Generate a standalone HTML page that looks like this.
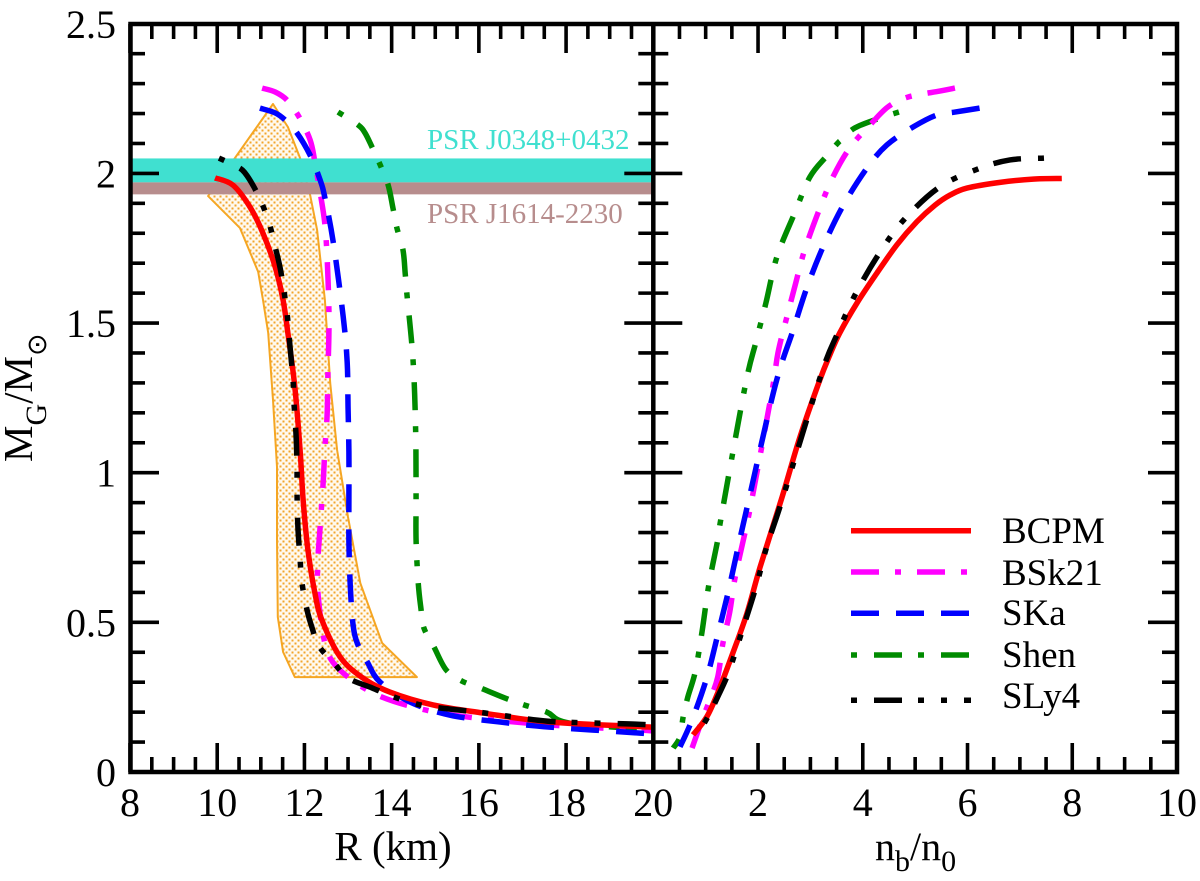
<!DOCTYPE html>
<html>
<head>
<meta charset="utf-8">
<title>Neutron star mass-radius chart</title>
<style>
html,body{margin:0;padding:0;background:#fff;}
svg{display:block;font-family:"Liberation Serif",serif;}
</style>
</head>
<body>
<svg id="chart" xmlns="http://www.w3.org/2000/svg" width="1200" height="881" viewBox="0 0 1200 881">
<defs>
<clipPath id="clip-left"><rect x="130" y="24" width="523.3" height="748"></rect></clipPath>
<clipPath id="clip-right"><rect x="653.3" y="24" width="523.7" height="748"></rect></clipPath>
<pattern id="dots" patternUnits="userSpaceOnUse" width="6" height="6">
<rect width="6" height="6" fill="#fff9ee"></rect>
<rect x="0.5" y="0.5" width="2" height="2" fill="#f2a52c"></rect>
<rect x="3.5" y="3.5" width="2" height="2" fill="#f2a52c"></rect>
</pattern>
</defs>
</svg>
<script>
// Axis tick values
const radiusTicks = [8, 10, 12, 14, 16, 18, 20];
const densityTicks = [2, 4, 6, 8, 10];
const massTicks = [0, 0.5, 1, 1.5, 2, 2.5];
const massTickLabels = ['0', '0.5', '1', '1.5', '2', '2.5'];

// Pulsar mass bands
const j0348Band = [1.97, 2.05];
const j1614Band = [1.93, 1.97];

// Constraint region
const regionR = [11.28, 11.62, 11.90, 12.13, 12.29, 12.47, 12.59, 12.75, 13.0, 13.28, 13.78, 14.58, 11.78, 11.51, 11.39, 11.37, 11.37, 11.28, 11.17, 11.05, 10.94, 10.52, 9.79];
const regionM = [2.232, 2.155, 2.051, 1.928, 1.811, 1.577, 1.3, 1.076, 0.852, 0.631, 0.431, 0.317, 0.317, 0.401, 0.518, 0.775, 1.019, 1.243, 1.467, 1.577, 1.671, 1.818, 1.924];

// BCPM
const bcpmR = [9.95, 10.36, 10.75, 11.05, 11.33, 11.51, 11.62, 11.78, 11.90, 11.97, 12.08, 12.24, 12.40, 12.82, 13.34, 13.96, 14.95, 16.10, 17.63, 19.97, 20.6];
const bcpmRM = [1.985, 1.961, 1.888, 1.80, 1.687, 1.577, 1.467, 1.286, 1.076, 0.909, 0.742, 0.598, 0.508, 0.384, 0.314, 0.267, 0.224, 0.197, 0.167, 0.150, 0.145];
const bcpmN = [7.80, 7.25, 6.62, 5.99, 5.67, 5.38, 5.03, 4.65, 4.27, 3.89, 3.56, 3.37, 3.18, 2.80, 2.46, 2.04, 1.79, 1.52, 1.23, 1.02, 0.76];
const bcpmNM = [1.983, 1.981, 1.970, 1.951, 1.928, 1.894, 1.838, 1.761, 1.667, 1.567, 1.467, 1.393, 1.31, 1.119, 0.919, 0.685, 0.531, 0.398, 0.264, 0.184, 0.124];

// BSk21
const bsk21R = [11.03, 11.33, 11.60, 11.88, 12.13, 12.24, 12.40, 12.47, 12.52, 12.56, 12.56, 12.54, 12.52, 12.47, 12.43, 12.36, 12.31, 12.31, 12.47, 12.77, 13.57, 14.58, 15.73, 17.63, 19.70, 20.6];
const bsk21RM = [2.285, 2.272, 2.245, 2.188, 2.112, 2.038, 1.901, 1.828, 1.721, 1.554, 1.453, 1.343, 1.193, 1.083, 0.969, 0.819, 0.708, 0.598, 0.431, 0.347, 0.264, 0.214, 0.184, 0.157, 0.140, 0.13];
const bsk21N = [5.76, 5.47, 4.86, 4.48, 4.14, 3.75, 3.43, 3.18, 2.89, 2.72, 2.55, 2.38, 2.27, 1.88, 1.75, 1.56, 1.46, 1.33, 1.23, 1.08, 0.93, 0.74];
const bsk21NM = [2.285, 2.275, 2.255, 2.222, 2.162, 2.085, 1.988, 1.884, 1.744, 1.634, 1.52, 1.40, 1.276, 0.909, 0.799, 0.648, 0.535, 0.431, 0.317, 0.241, 0.174, 0.08];

// SKa
const skaR = [10.98, 11.33, 11.56, 11.83, 12.13, 12.36, 12.47, 12.66, 12.89, 12.98, 13.0, 13.02, 13.02, 13.02, 13.05, 13.11, 13.21, 13.44, 13.73, 14.42, 15.34, 16.49, 17.63, 19.70, 20.6];
const skaRM = [2.218, 2.202, 2.178, 2.135, 2.061, 1.978, 1.918, 1.771, 1.52, 1.37, 1.22, 1.069, 0.919, 0.768, 0.625, 0.498, 0.431, 0.368, 0.301, 0.234, 0.19, 0.167, 0.15, 0.13, 0.12];
const skaN = [6.23, 5.76, 5.41, 4.96, 4.46, 4.08, 3.62, 3.24, 2.93, 2.67, 2.32, 1.81, 1.62, 1.43, 1.23, 1.02, 0.74, 0.51];
const skaNM = [2.218, 2.205, 2.195, 2.155, 2.095, 2.018, 1.891, 1.754, 1.617, 1.477, 1.286, 0.899, 0.752, 0.601, 0.458, 0.314, 0.174, 0.084];

// Shen
const shenR = [12.77, 13.23, 13.39, 13.55, 13.73, 13.92, 14.03, 14.12, 14.26, 14.31, 14.35, 14.49, 14.55, 14.56, 14.56, 14.61, 14.67, 14.74, 14.97, 15.25, 15.61, 16.03, 16.60, 17.04, 17.56, 18.10, 20.16];
const shenRM = [2.205, 2.162, 2.135, 2.088, 2.031, 1.961, 1.884, 1.818, 1.744, 1.667, 1.597, 1.377, 1.143, 0.925, 0.775, 0.631, 0.548, 0.481, 0.418, 0.341, 0.304, 0.281, 0.247, 0.224, 0.2, 0.163, 0.14];
const shenN = [4.69, 4.33, 3.85, 3.56, 3.31, 2.99, 2.70, 2.36, 2.15, 1.96, 1.75, 1.29, 1.23, 1.06, 0.93, 0.80, 0.66, 0.57, 0.51, 0.38];
const shenNM = [2.205, 2.185, 2.152, 2.108, 2.058, 1.988, 1.868, 1.721, 1.567, 1.437, 1.286, 0.845, 0.775, 0.625, 0.468, 0.334, 0.251, 0.184, 0.117, 0.08];

// SLy4
const sly4R = [10.04, 10.48, 10.64, 10.84, 11.05, 11.21, 11.33, 11.46, 11.60, 11.67, 11.74, 11.76, 11.81, 11.83, 11.83, 11.85, 11.90, 11.94, 12.06, 12.17, 12.33, 12.68, 13.0, 13.55, 13.99, 14.47, 14.95, 15.98, 16.49, 17.56, 18.55, 19.58, 20.27];
const sly4RM = [2.051, 2.021, 2.001, 1.955, 1.891, 1.824, 1.754, 1.671, 1.534, 1.42, 1.306, 1.233, 1.119, 1.009, 0.936, 0.819, 0.712, 0.635, 0.541, 0.484, 0.421, 0.364, 0.314, 0.281, 0.254, 0.231, 0.217, 0.2, 0.19, 0.17, 0.164, 0.16, 0.154];
const sly4N = [7.46, 6.81, 6.20, 5.47, 4.80, 4.33, 3.87, 3.53, 3.20, 2.46, 2.17, 1.96, 1.69, 1.44, 1.23, 1.06, 0.85];
const sly4NM = [2.051, 2.045, 2.015, 1.955, 1.848, 1.737, 1.6, 1.47, 1.326, 0.909, 0.755, 0.618, 0.468, 0.334, 0.251, 0.19, 0.127];

const svg = document.getElementById('chart');
const NS = 'http://www.w3.org/2000/svg';

// Axis functions
function xLeft(r) { return 130 + (r - 8) * (523.3 / 12); }
function xRight(n) { return 653.3 + n * 52.37; }
function yMass(m) { return 772 - m * 299.3; }

function make(tag, attrs, parent) {
  const el = document.createElementNS(NS, tag);
  for (const k in attrs) el.setAttribute(k, attrs[k]);
  (parent || svg).appendChild(el);
  return el;
}

function smoothPath(xs, ys) {
  let d = 'M' + xs[0].toFixed(2) + ' ' + ys[0].toFixed(2);
  const n = xs.length;
  for (let i = 0; i < n - 1; i++) {
    const p0 = Math.max(i - 1, 0), p3 = Math.min(i + 2, n - 1);
    const c1x = xs[i] + (xs[i + 1] - xs[p0]) / 6;
    const c1y = ys[i] + (ys[i + 1] - ys[p0]) / 6;
    const c2x = xs[i + 1] - (xs[p3] - xs[i]) / 6;
    const c2y = ys[i + 1] - (ys[p3] - ys[i]) / 6;
    d += 'C' + c1x.toFixed(2) + ' ' + c1y.toFixed(2) + ' ' + c2x.toFixed(2) + ' ' + c2y.toFixed(2) + ' ' + xs[i + 1].toFixed(2) + ' ' + ys[i + 1].toFixed(2);
  }
  return d;
}

// Constraint region
const region = make('polygon', {
  points: regionR.map(function (r, i) { return xLeft(r).toFixed(1) + ',' + yMass(regionM[i]).toFixed(1); }).join(' '),
  fill: 'url(#dots)', stroke: '#f5a623', 'stroke-width': 2, 'stroke-linejoin': 'round'
});



// Pulsar bands
const bandTeal = make('rect', {
  x: xLeft(8) + 2, width: xLeft(20) - xLeft(8) - 2,
  y: yMass(j0348Band[1]), height: yMass(j0348Band[0]) - yMass(j0348Band[1]), fill: '#40e0d0'
});


const bandBrown = make('rect', {
  x: xLeft(8) + 2, width: xLeft(20) - xLeft(8) - 2,
  y: yMass(j1614Band[1]), height: yMass(j1614Band[0]) - yMass(j1614Band[1]), fill: '#b78d8d'
});



// Band labels
const labelTeal = make('text', { x: 427, y: 149, 'font-size': 29, fill: '#40e0d0' });
labelTeal.textContent = 'PSR J0348+0432';


const labelBrown = make('text', { x: 427, y: 223, 'font-size': 29, fill: '#b78d8d' });
labelBrown.textContent = 'PSR J1614-2230';



// Series styling
const dashBSk = '28 16 6 16';
const dashSKa = '28 17';
const dashShen = '6 17 28 16';
const dashSLy = '6 17 28 16 6 17';

function drawCurve(name, rs, rm, ns, nm, color, dash) {
  const left = make('path', {
    d: smoothPath(rs.map(xLeft), rm.map(yMass)), fill: 'none', stroke: color, 'stroke-width': 5.5,
    'clip-path': 'url(#clip-left)', 'stroke-linejoin': 'round'
  });
  if (dash) left.setAttribute('stroke-dasharray', dash);
  
  
  const right = make('path', {
    d: smoothPath(ns.map(xRight), nm.map(yMass)), fill: 'none', stroke: color, 'stroke-width': 5.5,
    'clip-path': 'url(#clip-right)', 'stroke-linejoin': 'round'
  });
  if (dash) right.setAttribute('stroke-dasharray', dash);
  
  
}

drawCurve('shen', shenR, shenRM, shenN, shenNM, '#008b00', dashShen);
drawCurve('bsk21', bsk21R, bsk21RM, bsk21N, bsk21NM, '#ff00ff', dashBSk);
drawCurve('ska', skaR, skaRM, skaN, skaNM, '#0000ff', dashSKa);
drawCurve('bcpm', bcpmR, bcpmRM, bcpmN, bcpmNM, '#ff0000', '');
drawCurve('sly4', sly4R, sly4RM, sly4N, sly4NM, '#000000', dashSLy);

// Frame and ticks
const axes = make('g', { stroke: '#000', fill: 'none' });



const frame = make('rect', { x: 130.5, y: 24, width: 1046.5, height: 748, 'stroke-width': 4.5 }, axes);


const divider = make('line', { x1: 653.3, x2: 653.3, y1: 24, y2: 772, 'stroke-width': 4.5 }, axes);



function tick(x1, y1, x2, y2, name) {
  const t = make('line', { x1: x1, y1: y1, x2: x2, y2: y2, 'stroke-width': 3.6 }, axes);
  
  
}

function xTicks(step, fn, lo, hi, name) {
  for (let i = 0; lo + i * step / 4 <= hi + 1e-6; i++) {
    const major = i % 4 === 0;
    const len = major ? 29 : 15;
    const x = fn(lo + i * step / 4);
    tick(x, 772, x, 772 - len, name + '-bottom-tick');
    tick(x, 24, x, 24 + len, name + '-top-tick');
  }
}
xTicks(2, xLeft, 8, 20, 'radius');
xTicks(2, xRight, 0, 10, 'density');

for (let i = 0; i <= 25; i++) {
  const m = i / 10;
  const major = i % 5 === 0;
  const len = major ? 29 : 15;
  const y = yMass(m);
  tick(xLeft(8), y, xLeft(8) + len, y, 'mass-left-tick');
  tick(xRight(10), y, xRight(10) - len, y, 'mass-right-tick');
  tick(xLeft(20) - len, y, xLeft(20) + len, y, 'mass-center-tick');
}

// Tick labels
massTicks.forEach(function (m, i) {
  const t = make('text', { x: 116, y: yMass(m) + 14, 'font-size': 40, 'text-anchor': 'end', fill: '#000' });
  t.textContent = massTickLabels[i];
  
  
});
radiusTicks.forEach(function (r) {
  const t = make('text', { x: xLeft(r), y: 816, 'font-size': 40, 'text-anchor': 'middle', fill: '#000' });
  t.textContent = String(r);
  
  
});
densityTicks.forEach(function (n) {
  const t = make('text', { x: xRight(n), y: 816, 'font-size': 40, 'text-anchor': 'middle', fill: '#000' });
  t.textContent = String(n);
  
  
});

// Legend
const legendNames = ['BCPM', 'BSk21', 'SKa', 'Shen', 'SLy4'];
const legendColors = ['#ff0000', '#ff00ff', '#0000ff', '#008b00', '#000000'];
const legendDashes = ['', dashBSk, dashSKa, dashShen, dashSLy];
const legendLineY = [530.7, 572, 613.3, 655, 700.3];
const legendTextY = [543, 585, 625, 667, 708];
const legend = make('g', {});


legendNames.forEach(function (name, i) {
  const l = make('line', { x1: 851, x2: 971, y1: legendLineY[i], y2: legendLineY[i], stroke: legendColors[i], 'stroke-width': 5.5 }, legend);
  if (legendDashes[i]) l.setAttribute('stroke-dasharray', legendDashes[i]);
  
  
  const t = make('text', { x: 1002, y: legendTextY[i], 'font-size': 37, fill: '#000' }, legend);
  t.textContent = name;
  
  
});
</script>
<svg xmlns="http://www.w3.org/2000/svg" width="1200" height="881" viewBox="0 0 1200 881" style="position:absolute;left:0;top:0;pointer-events:none;">
<text x="393" y="860" font-size="41" text-anchor="middle">R (km)</text>
<text x="875" y="860" font-size="40">n<tspan font-size="30" dy="11">b</tspan><tspan dy="-11">/n</tspan><tspan font-size="30" dy="11">0</tspan></text>
<text transform="translate(32,462) rotate(-90)" font-size="41">M<tspan font-size="30" dy="14">G</tspan><tspan dy="-14">/M</tspan><tspan font-size="27" dy="14" style="font-family:'DejaVu Sans',sans-serif;">⊙</tspan></text>
</svg>
</body>
</html>
